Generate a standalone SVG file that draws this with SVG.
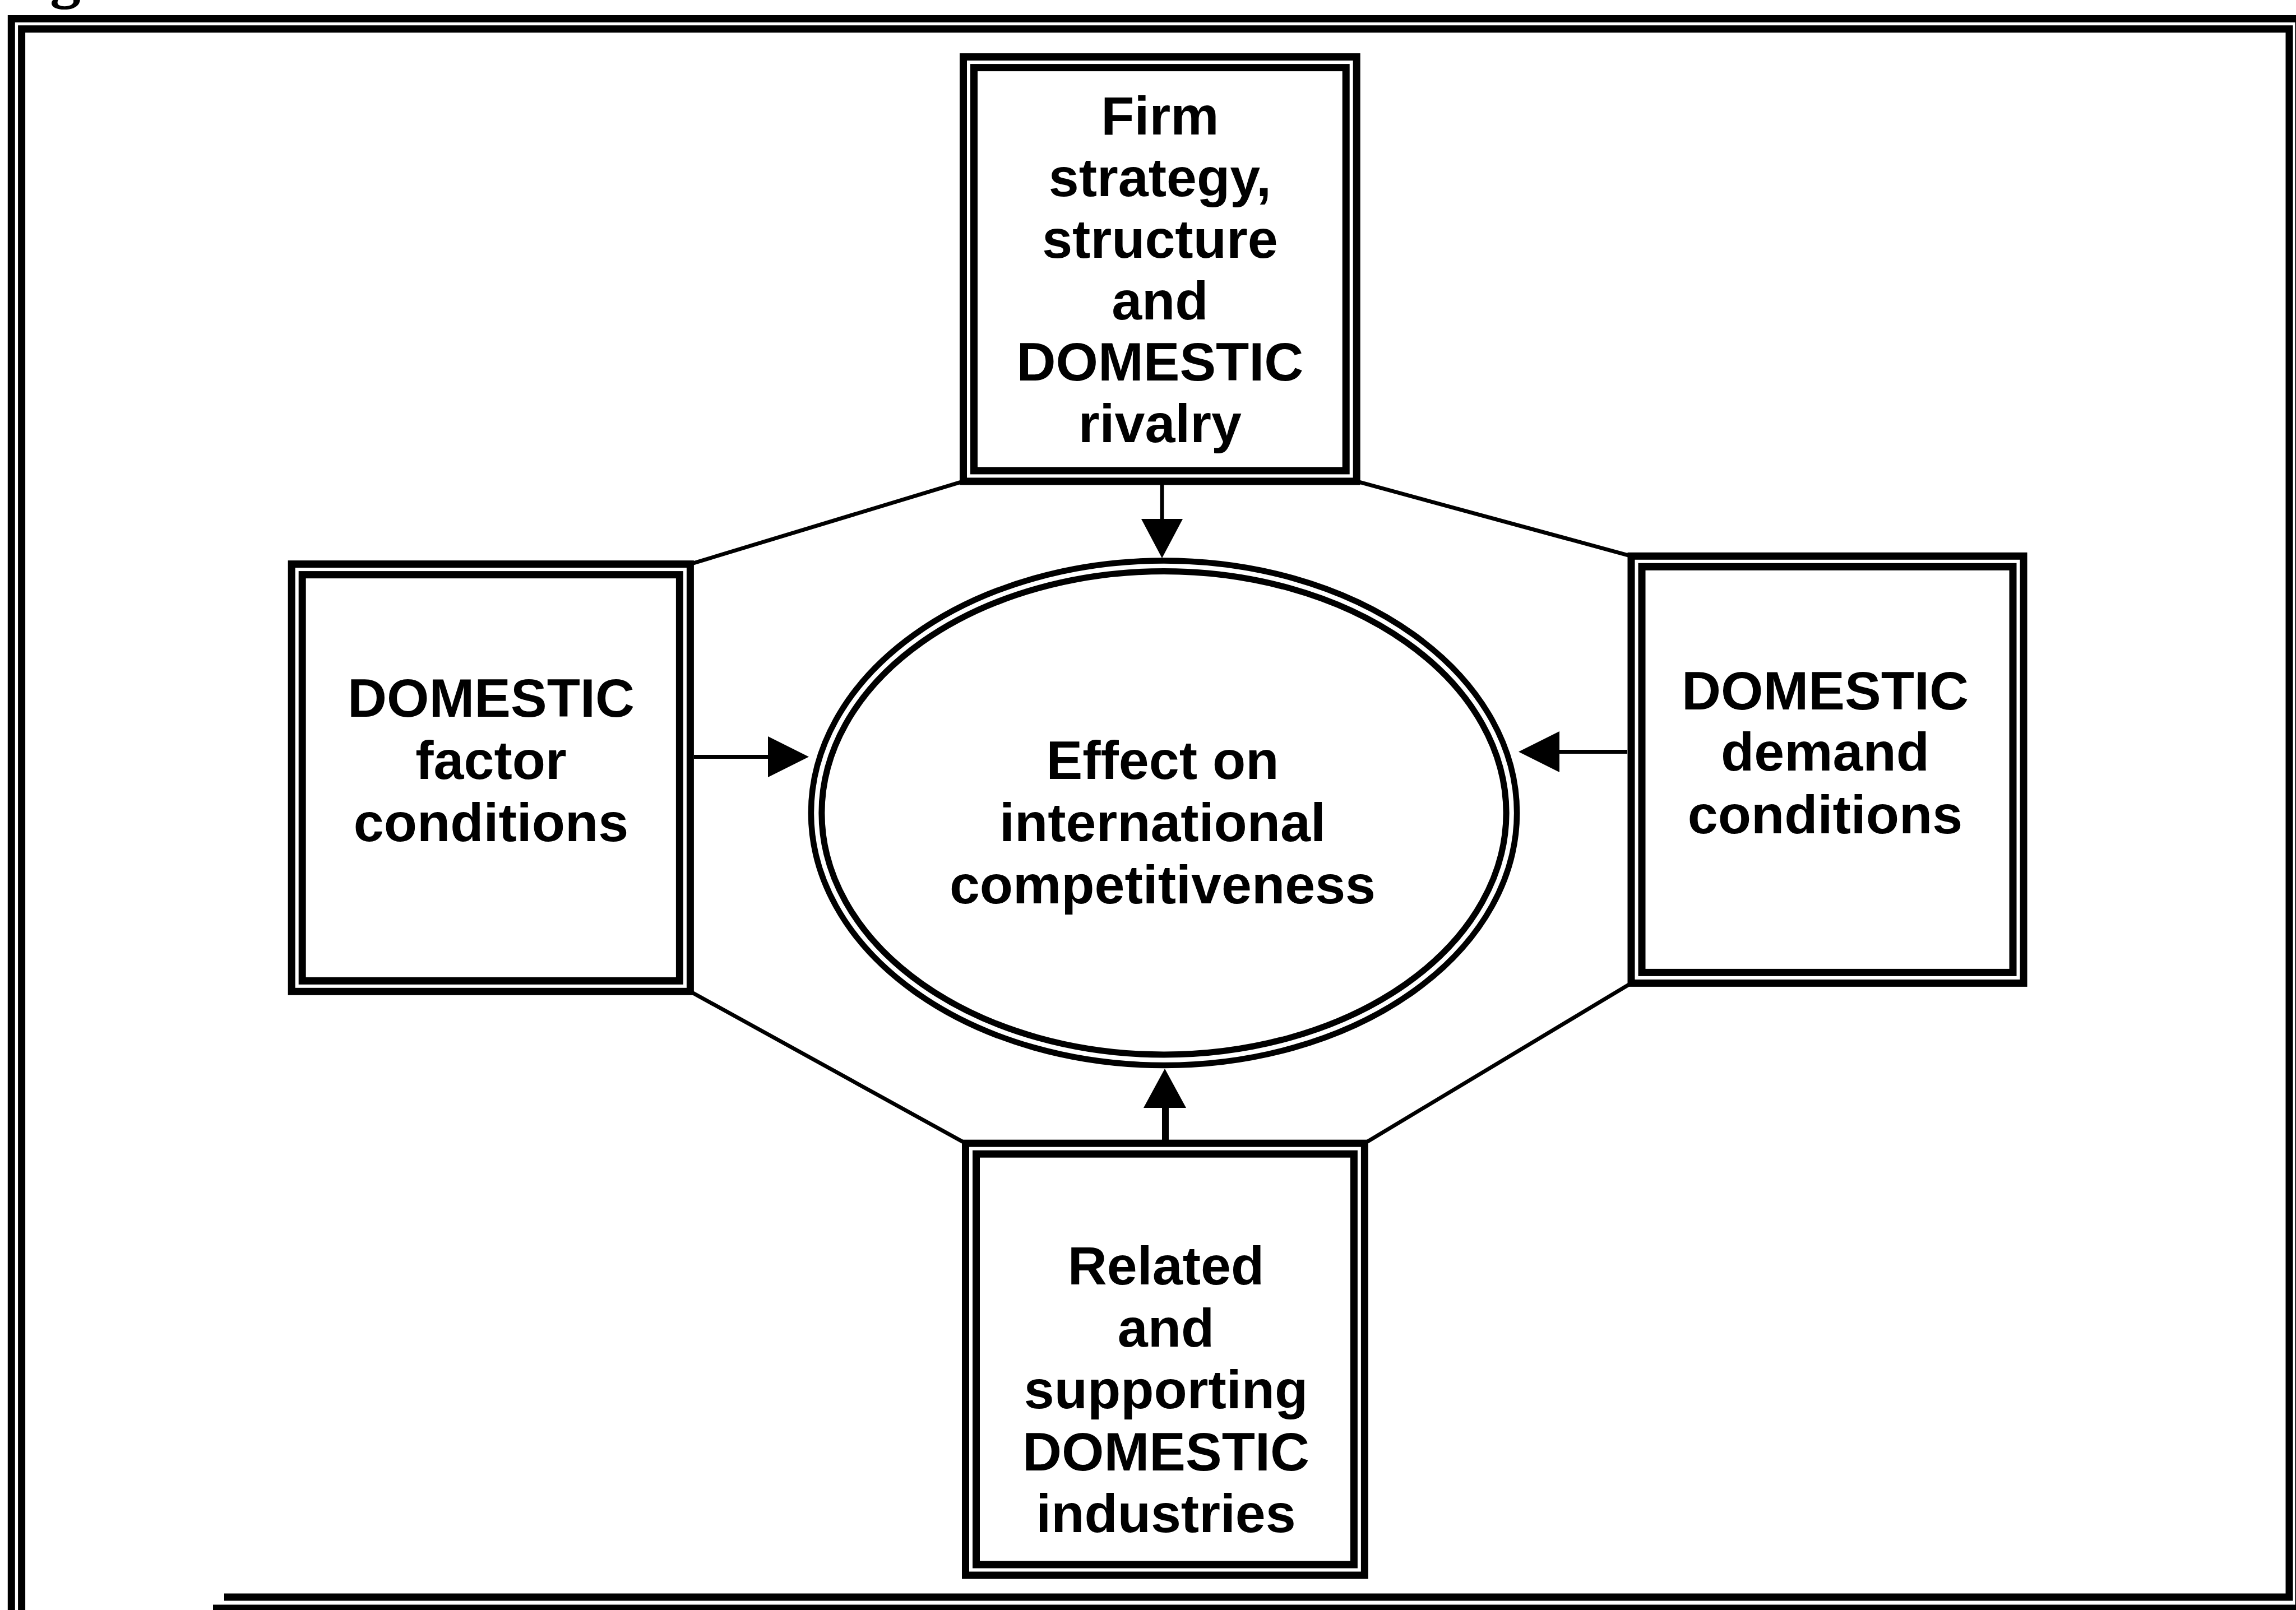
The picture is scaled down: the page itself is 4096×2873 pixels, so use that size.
<svg xmlns="http://www.w3.org/2000/svg" width="4096" height="2873" viewBox="0 0 4096 2873">
<style>
.frame{fill:none;stroke:#000;stroke-width:13}
.box{fill:#fff;stroke:#000;stroke-width:13}
.boxin{fill:none;stroke:#000;stroke-width:13}
.ell{fill:#fff;stroke:#000;stroke-width:10.5}
.ellin{fill:none;stroke:#000;stroke-width:11}
.oct{fill:none;stroke:#000;stroke-width:7}
.shaft{fill:none;stroke:#000;stroke-width:7}
.head{fill:#000;stroke:none}
.t{font-family:"Liberation Sans",Arial,Helvetica,sans-serif;font-weight:bold;font-size:97px;text-anchor:middle;fill:#000}
</style>
<rect x="0" y="0" width="4096" height="2873" fill="#fff"/>
<text x="89" y="-7" style="font-family:'Liberation Serif','Times New Roman',serif;font-weight:bold;font-size:110px;fill:#000">g</text>
<g id="frame">
<path class="frame" d="M20.3 2873 V33.5 H4101 V2870 H380"/>
<path class="frame" d="M38.6 2873 V51.8 H4084 V2850 H400"/>
</g>
<g id="node-firm">
<rect class="box" x="1718.5" y="101.6" width="701.7" height="757.3"/>
<rect class="boxin" x="1737.5" y="120.6" width="663.7" height="719.3"/>
<text class="t" x="2069.4" y="240.3">Firm</text>
<text class="t" x="2069.4" y="350">strategy,</text>
<text class="t" x="2069.4" y="459.7">structure</text>
<text class="t" x="2069.4" y="569.5">and</text>
<text class="t" x="2069.4" y="679.2">DOMESTIC</text>
<text class="t" x="2069.4" y="788.9">rivalry</text>
</g>
<g id="node-factor">
<rect class="box" x="520.2" y="1006.6" width="711.2" height="762.7"/>
<rect class="boxin" x="539.2" y="1025.6" width="673.2" height="724.7"/>
<text class="t" x="876" y="1278.7">DOMESTIC</text>
<text class="t" x="876" y="1389.7">factor</text>
<text class="t" x="876" y="1500.7">conditions</text>
</g>
<g id="node-demand">
<rect class="box" x="2910" y="992.3" width="700" height="762.1"/>
<rect class="boxin" x="2929" y="1011.3" width="662" height="724.1"/>
<text class="t" x="3256" y="1265.6">DOMESTIC</text>
<text class="t" x="3256" y="1375.3">demand</text>
<text class="t" x="3256" y="1487.4">conditions</text>
</g>
<g id="node-related">
<rect class="box" x="1722.5" y="2040.2" width="711.9" height="770.8"/>
<rect class="boxin" x="1741.5" y="2059.2" width="673.9" height="732.8"/>
<text class="t" x="2080" y="2292">Related</text>
<text class="t" x="2080" y="2402.5">and</text>
<text class="t" x="2080" y="2513">supporting</text>
<text class="t" x="2080" y="2623.5">DOMESTIC</text>
<text class="t" x="2080" y="2734">industries</text>
</g>
<g id="node-effect">
<ellipse class="ell" cx="2076.5" cy="1450.75" rx="629.6" ry="450.25"/>
<ellipse class="ellin" cx="2076.5" cy="1450.75" rx="610.6" ry="431.25"/>
<text class="t" x="2074" y="1389.7">Effect on</text>
<text class="t" x="2074" y="1500.7">international</text>
<text class="t" x="2074" y="1611.7">competitiveness</text>
</g>
<g id="connectors">
<line class="oct" x1="1718.5" y1="858.9" x2="1231.4" y2="1006.6"/>
<line class="oct" x1="2420.2" y1="858.9" x2="2910" y2="992.3"/>
<line class="oct" x1="1231.4" y1="1769.3" x2="1722.5" y2="2040.2"/>
<line class="oct" x1="2910" y1="1754.4" x2="2434.4" y2="2040.2"/>
<line class="shaft" x1="2073" y1="865" x2="2073" y2="930"/>
<polygon class="head" points="2036,926 2110,926 2073,996"/>
<line class="shaft" x1="1238" y1="1350.5" x2="1374" y2="1350.5"/>
<polygon class="head" points="1370,1314 1370,1387 1443,1350.5"/>
<line class="shaft" x1="2903" y1="1341.5" x2="2778" y2="1341.5"/>
<polygon class="head" points="2782,1305 2782,1378 2709,1341.5"/>
<line class="shaft" style="stroke-width:12" x1="2079" y1="2034" x2="2079" y2="1972"/>
<polygon class="head" points="2040,1977 2116,1977 2078,1907"/>
</g>
</svg>
